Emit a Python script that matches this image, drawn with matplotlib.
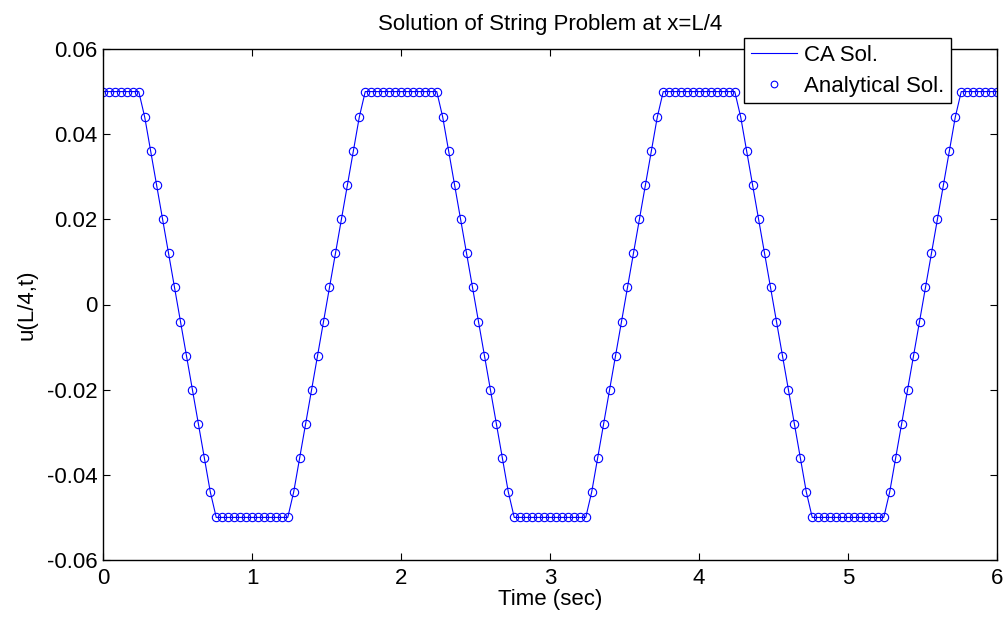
import numpy as np
import matplotlib.pyplot as plt

plt.rcParams['font.family'] = ['Liberation Sans', 'DejaVu Sans']

# sample times of the analytical solution (every 0.04 s)
t = np.round(np.arange(151) * 0.04, 2)

u_analytical = [
    0.05, 0.05, 0.05, 0.05, 0.05, 0.05, 0.05,
    0.044, 0.036, 0.028, 0.020, 0.012, 0.004, -0.004, -0.012, -0.020, -0.028, -0.036, -0.044,
    -0.05, -0.05, -0.05, -0.05, -0.05, -0.05, -0.05, -0.05, -0.05, -0.05, -0.05, -0.05, -0.05,
    -0.044, -0.036, -0.028, -0.020, -0.012, -0.004, 0.004, 0.012, 0.020, 0.028, 0.036, 0.044,
    0.05, 0.05, 0.05, 0.05, 0.05, 0.05, 0.05, 0.05, 0.05, 0.05, 0.05, 0.05, 0.05,
    0.044, 0.036, 0.028, 0.020, 0.012, 0.004, -0.004, -0.012, -0.020, -0.028, -0.036, -0.044,
    -0.05, -0.05, -0.05, -0.05, -0.05, -0.05, -0.05, -0.05, -0.05, -0.05, -0.05, -0.05, -0.05,
    -0.044, -0.036, -0.028, -0.020, -0.012, -0.004, 0.004, 0.012, 0.020, 0.028, 0.036, 0.044,
    0.05, 0.05, 0.05, 0.05, 0.05, 0.05, 0.05, 0.05, 0.05, 0.05, 0.05, 0.05, 0.05,
    0.044, 0.036, 0.028, 0.020, 0.012, 0.004, -0.004, -0.012, -0.020, -0.028, -0.036, -0.044,
    -0.05, -0.05, -0.05, -0.05, -0.05, -0.05, -0.05, -0.05, -0.05, -0.05, -0.05, -0.05, -0.05,
    -0.044, -0.036, -0.028, -0.020, -0.012, -0.004, 0.004, 0.012, 0.020, 0.028, 0.036, 0.044,
    0.05, 0.05, 0.05, 0.05, 0.05, 0.05, 0.05,
]

# CA solution follows the same samples
u_ca = list(u_analytical)

x_ticks = [0, 1, 2, 3, 4, 5, 6]
y_ticks = [-0.06, -0.04, -0.02, 0, 0.02, 0.04, 0.06]
y_labels = ["-0.06", "-0.04", "-0.02", "0", "0.02", "0.04", "0.06"]

W, H = 1005, 619
fig = plt.figure(figsize=(W / 100, H / 100), dpi=100)
# axes box in pixels: left 103, right 997, top 49, bottom 560
ax = fig.add_axes([103 / W, 1 - 560 / H, 894 / W, 511 / H])

ax.plot(t, u_ca, color="blue", linewidth=0.8, label="CA Sol.")
ax.plot(t, u_analytical, linestyle="none", marker="o", markersize=6,
        markerfacecolor="none", markeredgecolor="blue", markeredgewidth=0.8,
        label="Analytical Sol.")

ax.set_xlim(0, 6)
ax.set_ylim(-0.06, 0.06)
ax.set_xticks(x_ticks)
ax.set_yticks(y_ticks)
ax.set_yticklabels(y_labels)
ax.tick_params(direction="in", top=True, right=True, labelsize=16, length=5)
ax.tick_params(axis="x", pad=6)
ax.tick_params(axis="y", pad=4)
for s in ax.spines.values():
    s.set_linewidth(1.0)

ax.set_xlabel("Time (sec)", fontsize=16, labelpad=0)
ax.set_ylabel("u(L/4,t)", fontsize=16, labelpad=7)
ax.set_title("Solution of String Problem at x=L/4", fontsize=16, pad=14)

leg = ax.legend(loc="upper left", bbox_to_anchor=(744 / W, 1 - 38 / H),
                bbox_transform=fig.transFigure, fontsize=16, fancybox=False,
                framealpha=1, edgecolor="black", borderpad=0.3,
                handlelength=2.1, handletextpad=0.3, labelspacing=0.45,
                borderaxespad=0, markerscale=0.8)
leg.get_frame().set_linewidth(1.0)

fig.savefig("out.png", dpi=100)
